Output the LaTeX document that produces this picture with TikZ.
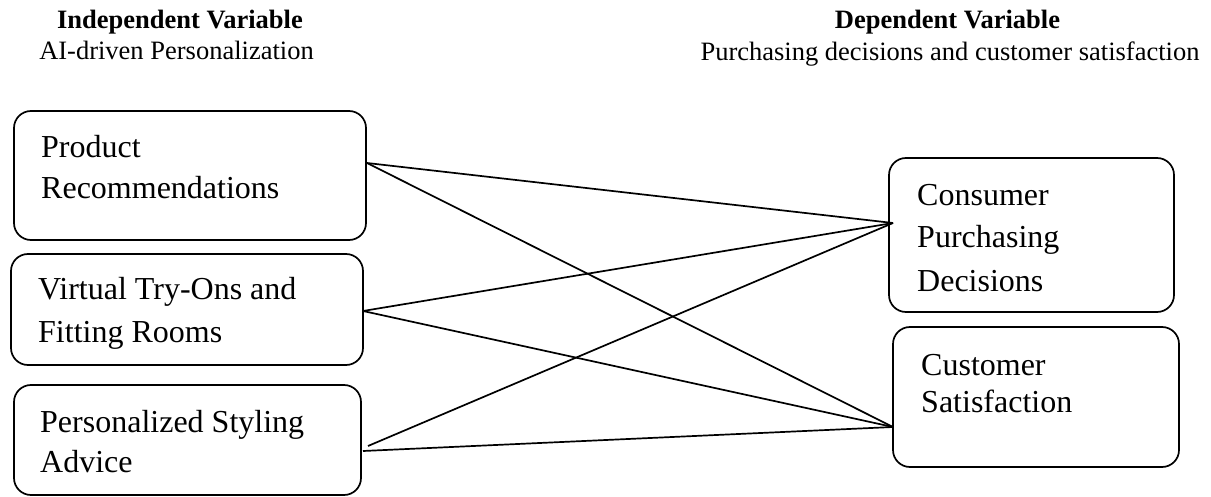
\documentclass[tikz,border=0pt]{standalone}
\usepackage{fontspec}
\setmainfont{Liberation Serif}
\begin{document}
\begin{tikzpicture}[x=1pt,y=-1pt,
  box/.style={draw, line width=1.7pt, rounded corners=17pt, inner sep=0pt, outer sep=0pt},
  txt/.style={anchor=base west, inner sep=0pt, font=\fontsize{32}{38}\selectfont},
  head/.style={anchor=base, inner sep=0pt, font=\fontsize{26.5}{30}\selectfont},
  link/.style={line width=1.7pt}]
\useasboundingbox (0,0) rectangle (1211,497);
% headers
\node[head, font=\fontsize{26.5}{30}\selectfont\bfseries] (h1) at (180,29) {Independent Variable};
\node[head] (h2) at (176.5,60) {AI-driven Personalization};
\node[head, font=\fontsize{26.5}{30}\selectfont\bfseries] (h3) at (947.5,29) {Dependent Variable};
\node[head] (h4) at (950,61) {Purchasing decisions and customer satisfaction};
% boxes
\node[box, minimum width=352pt, minimum height=129pt] (b1) at (190,175.5) {};
\node[box, minimum width=352pt, minimum height=111pt] (b2) at (187,309.5) {};
\node[box, minimum width=347pt, minimum height=110pt] (b3) at (187.5,440) {};
\node[box, minimum width=285pt, minimum height=154pt] (b4) at (1031.5,235) {};
\node[box, minimum width=286pt, minimum height=140pt] (b5) at (1036,397) {};
% texts
\node[txt] (t1a) at (41,158) {Product};
\node[txt] (t1b) at (41,199) {Recommendations};
\node[txt] (t2a) at (38,300) {Virtual Try-Ons and};
\node[txt] (t2b) at (38,342) {Fitting Rooms};
\node[txt] (t3a) at (40,432) {Personalized Styling};
\node[txt] (t3b) at (40,472) {Advice};
\node[txt] (t4a) at (917,206) {Consumer};
\node[txt] (t4b) at (917,248) {Purchasing};
\node[txt] (t4c) at (917,291) {Decisions};
\node[txt] (t5a) at (921,375) {Customer};
\node[txt] (t5b) at (921,412) {Satisfaction};
% connection points
\coordinate (p1) at (367,163);
\coordinate (p2) at (363,311);
\coordinate (p3a) at (368,446);
\coordinate (p3b) at (363,451);
\coordinate (q1) at (893,223);
\coordinate (q2) at (893,427);
% connectors
\draw[link] (p1) -- (q1);
\draw[link] (p1) -- (q2);
\draw[link] (p2) -- (q1);
\draw[link] (p2) -- (q2);
\draw[link] (p3a) -- (q1);
\draw[link] (p3b) -- (q2);
\end{tikzpicture}
\end{document}
